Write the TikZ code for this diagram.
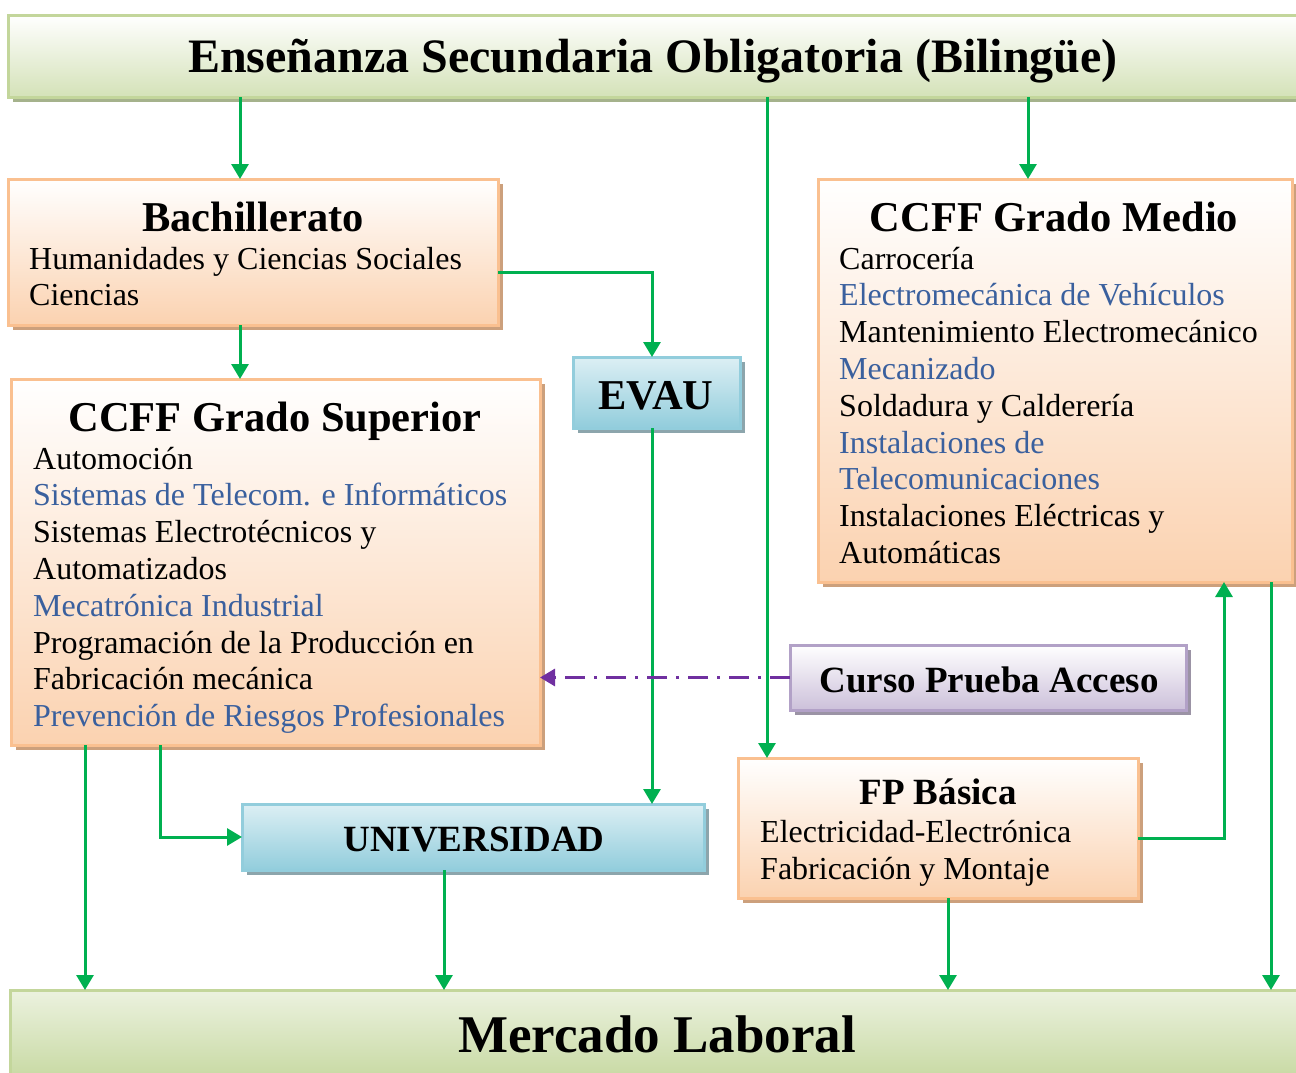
\documentclass[tikz,border=0pt]{standalone}
\usepackage{fontspec}
\setmainfont{Liberation Serif}
\usetikzlibrary{arrows.meta,shadows}
\definecolor{arrgreen}{RGB}{0,176,80}
\definecolor{blu}{RGB}{58,96,158}
\definecolor{peach}{RGB}{251,210,176}
\definecolor{peachb}{RGB}{250,192,144}
\definecolor{peachs}{RGB}{204,160,124}
\definecolor{grn}{RGB}{212,226,184}
\definecolor{grnb}{RGB}{195,214,155}
\definecolor{grns}{RGB}{165,178,140}
\definecolor{bluf}{RGB}{146,205,220}
\definecolor{bluf2}{RGB}{220,239,244}
\definecolor{blus}{RGB}{140,165,172}
\definecolor{pur}{RGB}{204,192,218}
\definecolor{purb}{RGB}{178,161,199}
\definecolor{purs}{RGB}{155,147,165}
\definecolor{purl}{RGB}{112,48,160}
\tikzset{
  box/.style={draw, line width=3pt, inner sep=0pt, outer sep=0pt, anchor=north west,
    drop shadow={shadow xshift=5pt, shadow yshift=-5pt, fill=#1, opacity=1}},
  peachbox/.style={box=peachs, draw=peachb, top color=white, bottom color=peach},
  greenbox/.style={box=grns, draw=grnb, top color=white, bottom color=grn},
  bluebox/.style={box=blus, draw=bluf, top color=bluf2, bottom color=bluf},
  purbox/.style={box=purs, draw=purb, top color=white, bottom color=pur},
  txt/.style={anchor=base west, inner sep=0pt, font=\fontsize{32}{36.8}\selectfont},
  hd/.style={anchor=base, inner sep=0pt, font=\bfseries\fontsize{42.5}{48}\selectfont},
  hds/.style={anchor=base, inner sep=0pt, font=\bfseries\fontsize{37}{42}\selectfont},
  arr/.style={draw=arrgreen, line width=3pt, -{Triangle[width=17pt,length=15pt]}},
  dda/.style={draw=purl, line width=3pt, dash pattern=on 20pt off 9pt on 3pt off 9pt,
    -{Triangle[width=17pt,length=15pt]}}
}
\begin{document}
\begin{tikzpicture}[x=1pt,y=-1pt]
\useasboundingbox (0,0) rectangle (1296,1072);
\clip (0,0) rectangle (1296,1072);
% boxes
\node[greenbox, minimum width=1300pt, minimum height=82pt] (top) at (8,15) {};
\node[peachbox, minimum width=490pt, minimum height=146pt] (bach) at (8,179) {};
\node[peachbox, minimum width=529pt, minimum height=366pt] (gs) at (11,379) {};
\node[bluebox, minimum width=167pt, minimum height=71pt] (evau) at (573,357) {};
\node[peachbox, minimum width=474pt, minimum height=403pt] (gm) at (818,179) {};
\node[purbox, minimum width=396pt, minimum height=65pt] (cpa) at (790,645) {};
\node[peachbox, minimum width=400pt, minimum height=140pt] (fpb) at (738,758) {};
\node[bluebox, minimum width=462pt, minimum height=66pt] (uni) at (242,804) {};
\node[greenbox, minimum width=1300pt, minimum height=100pt, top color=grn!45!white, bottom color=grnb] (ml) at (10,990) {};
% headings
\node[anchor=base, inner sep=0pt, font=\bfseries\fontsize{48}{55}\selectfont] (ttop) at (653,72) {Enseñanza Secundaria Obligatoria (Bilingüe)};
\node[anchor=base, inner sep=0pt, font=\bfseries\fontsize{53}{60}\selectfont] (tml) at (657,1052) {Mercado Laboral};
\node[hd] (tbach) at (253,231) {Bachillerato};
\node[hd] (tgs) at (275,431) {CCFF Grado Superior};
\node[hd] (tgm) at (1054,231) {CCFF Grado Medio};
\node[hd] (tevau) at (656,409) {EVAU};
\node[hds] (tcpa) at (989,692) {Curso Prueba Acceso};
\node[hds] (tfpb) at (938,804) {FP Básica};
\node[hds] (tuni) at (474,851) {UNIVERSIDAD};
% body lines
\node[txt] (b1) at (29,269) {Humanidades y Ciencias Sociales};
\node[txt] (b2) at (29,305.8) {Ciencias};
\foreach \t/\c [count=\i] in {Automoción/black,{Sistemas de Telecom. e Informáticos}/blu,{Sistemas Electrotécnicos y}/black,Automatizados/black,{Mecatrónica Industrial}/blu,{Programación de la Producción en}/black,{Fabricación mecánica}/black,{Prevención de Riesgos Profesionales}/blu}
  \node[txt, text=\c] (gs\i) at (33,{469+36.8*(\i-1)}) {\t};
\foreach \t/\c [count=\i] in {Carrocería/black,{Electromecánica de Vehículos}/blu,{Mantenimiento Electromecánico}/black,Mecanizado/blu,{Soldadura y Calderería}/black,{Instalaciones de}/blu,Telecomunicaciones/blu,{Instalaciones Eléctricas y}/black,Automáticas/black}
  \node[txt, text=\c] (gm\i) at (839,{269+36.8*(\i-1)}) {\t};
\node[txt] (f1) at (760,842) {Electricidad-Electrónica};
\node[txt] (f2) at (760,879) {Fabricación y Montaje};
% connectors
\draw[arr] (240,0 |- top.south) -- (240,0 |- bach.north);
\draw[arr] (767,0 |- top.south) -- (767,0 |- fpb.north);
\draw[arr] (1028,0 |- top.south) -- (1028,0 |- gm.north);
\draw[arr] (bach.east |- 0,272) -| (652,0 |- evau.north);
\draw[arr] (240,0 |- bach.south) -- (240,0 |- gs.north);
\draw[arr] (652,0 |- evau.south) -- (652,0 |- uni.north);
\draw[arr] (85,0 |- gs.south) -- (85,0 |- ml.north);
\draw[arr] (160,0 |- gs.south) |- (uni.west);
\draw[arr] (444,0 |- uni.south) -- (444,0 |- ml.north);
\draw[arr] (fpb.east |- 0,838) -| (1224,0 |- gm.south);
\draw[arr] (948,0 |- fpb.south) -- (948,0 |- ml.north);
\draw[arr] (1271,0 |- gm.south) -- (1271,0 |- ml.north);
\draw[dda] (cpa.west) -- (gs.east |- cpa.west);
\end{tikzpicture}
\end{document}
